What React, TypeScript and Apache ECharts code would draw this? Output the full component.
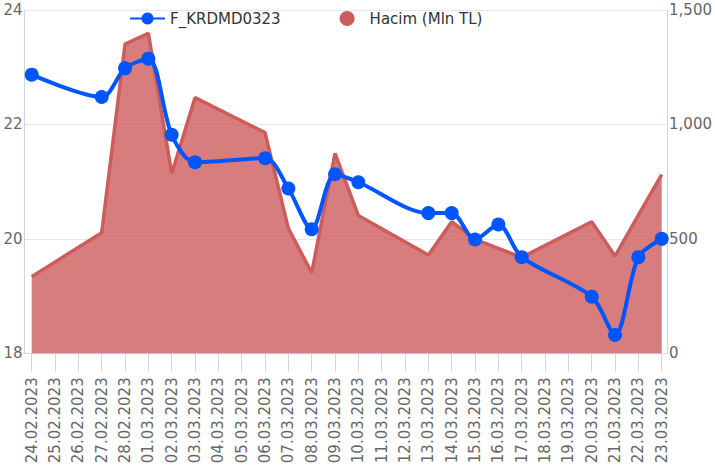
import React, { useEffect, useRef } from "react";
import * as echarts from "echarts";

const categories = [
  "24.02.2023", "25.02.2023", "26.02.2023", "27.02.2023", "28.02.2023",
  "01.03.2023", "02.03.2023", "03.03.2023", "04.03.2023", "05.03.2023",
  "06.03.2023", "07.03.2023", "08.03.2023", "09.03.2023", "10.03.2023",
  "11.03.2023", "12.03.2023", "13.03.2023", "14.03.2023", "15.03.2023",
  "16.03.2023", "17.03.2023", "18.03.2023", "19.03.2023", "20.03.2023",
  "21.03.2023", "22.03.2023", "23.03.2023",
];

const priceValues: (number | null)[] = [
  22.87, null, null, 22.48, 22.98, 23.15, 21.82, 21.34, null, null,
  21.41, 20.88, 20.17, 21.13, 20.99, null, null, 20.45, 20.45, 19.99,
  20.25, 19.68, null, null, 18.99, 18.32, 19.68, 20.0,
];

const volumeValues: (number | null)[] = [
  335, null, null, 527, 1351, 1398, 786, 1117, null, null,
  964, 546, 352, 874, 602, null, null, 429, 575, 498,
  458, 419, null, null, 575, 425, 604, 781,
];

const leftTicks = { min: 18, max: 24, interval: 2 };
const rightTicks = { min: 0, max: 1500, interval: 500 };

const PRICE_NAME = "F_KRDMD0323";
const VOLUME_NAME = "Hacim (Mln TL)";

export default function App() {
  const ref = useRef<HTMLDivElement>(null);
  useEffect(() => {
    if (!ref.current) return;
    const chart = echarts.init(ref.current, undefined, { renderer: "svg" });
    const font = "DejaVu Sans";
    const axisColor = "#ccd6eb";
    chart.setOption({
      animation: false,
      textStyle: { fontFamily: font },
      legend: {
        left: 124,
        top: 6,
        itemWidth: 35,
        itemHeight: 15,
        itemGap: 59,
        textStyle: { fontSize: 15, color: "#333333", fontFamily: font },
        data: [{ name: PRICE_NAME }, { name: VOLUME_NAME, icon: "circle" }],
      },
      grid: [
        { left: 31.7, right: 53.3, top: 10, bottom: 119.7 },
        { left: 24.5, right: 46.5, top: 10, bottom: 119.7 },
      ],
      xAxis: [
        {
          type: "category",
          gridIndex: 0,
          data: categories,
          boundaryGap: false,
          axisLine: { show: false },
          axisTick: {
            show: true,
            interval: 0,
            length: 18,
            lineStyle: { color: axisColor, width: 1 },
          },
          axisLabel: {
            interval: 0,
            rotate: 90,
            margin: 24,
            fontSize: 15,
            color: "#666666",
            fontFamily: font,
          },
          splitLine: { show: false },
        },
        {
          type: "value",
          gridIndex: 1,
          min: 0,
          max: 1,
          axisLine: { show: true, lineStyle: { color: axisColor, width: 1 } },
          axisTick: { show: false },
          axisLabel: { show: false },
          splitLine: { show: false },
        },
      ],
      yAxis: [
        {
          type: "value",
          gridIndex: 0,
          ...leftTicks,
          show: false,
        },
        {
          type: "value",
          gridIndex: 0,
          ...rightTicks,
          show: false,
        },
        {
          type: "value",
          gridIndex: 1,
          position: "left",
          ...leftTicks,
          axisLine: { show: true, lineStyle: { color: axisColor, width: 1 } },
          axisTick: { show: false },
          axisLabel: { fontSize: 15, color: "#666666", margin: 2, fontFamily: font },
          splitLine: { show: true, lineStyle: { color: "#e6e6e6", width: 1 } },
        },
        {
          type: "value",
          gridIndex: 1,
          position: "right",
          ...rightTicks,
          axisLine: { show: true, lineStyle: { color: axisColor, width: 1 } },
          axisTick: { show: false },
          axisLabel: {
            fontSize: 15,
            color: "#666666",
            margin: 2,
            fontFamily: font,
            formatter: (v: number) => v.toLocaleString("en-US"),
          },
          splitLine: { show: false },
        },
      ],
      series: [
        {
          name: PRICE_NAME,
          type: "line",
          xAxisIndex: 0,
          yAxisIndex: 0,
          data: priceValues,
          connectNulls: true,
          smooth: 0.3,
          symbol: "circle",
          symbolSize: 14,
          showAllSymbol: true,
          lineStyle: { color: "#0055ff", width: 4 },
          itemStyle: { color: "#0055ff" },
          z: 5,
        },
        {
          name: VOLUME_NAME,
          type: "line",
          xAxisIndex: 0,
          yAxisIndex: 1,
          data: volumeValues,
          connectNulls: true,
          symbol: "none",
          lineStyle: { color: "#cd5c5c", width: 3.5 },
          itemStyle: { color: "#cd5c5c" },
          areaStyle: { color: "#cd5c5c", opacity: 0.8 },
          z: 3,
        },
      ],
    });
    return () => chart.dispose();
  }, []);
  return (
    <div
      ref={ref}
      style={{ position: "absolute", left: 0, top: 0, width: 715, height: 473 }}
    />
  );
}
